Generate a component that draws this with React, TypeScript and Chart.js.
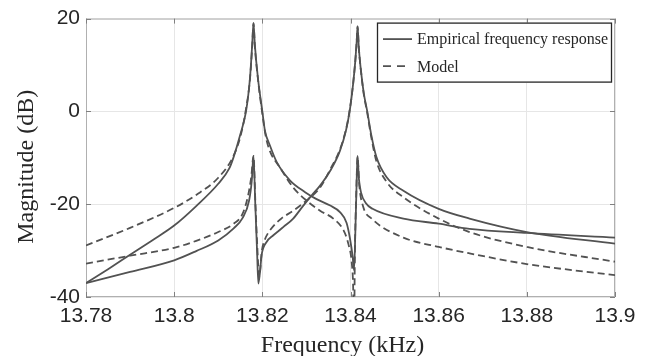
import { useEffect, useRef } from "react";
import { Chart, registerables } from "chart.js";

Chart.register(...registerables);

// ---- Data ----
const xTickValues = [13.78, 13.8, 13.82, 13.84, 13.86, 13.88, 13.9];
const yTickValues = [-40, -20, 0, 20];
const legendLabels = ["Empirical frequency response", "Model"];
const xTitle = "Frequency (kHz)";
const yTitle = "Magnitude (dB)";

// Empirical response, channel A (large peak at 13.818)
const empFreqA = [
  13.78, 13.785, 13.79, 13.795, 13.8, 13.805, 13.81, 13.8125, 13.8135, 13.815,
  13.8163, 13.8172, 13.8177, 13.818, 13.8183, 13.819, 13.82, 13.8206, 13.8217,
  13.8233, 13.8263, 13.8297, 13.8323, 13.8354, 13.8376, 13.8391, 13.8399,
  13.8405, 13.8408, 13.8411, 13.8414, 13.8416, 13.8419, 13.8424, 13.8435,
  13.845, 13.852, 13.86, 13.867, 13.88, 13.9,
];
const empMagA = [
  -37.0, -34.0, -30.9, -27.8, -24.6, -20.4, -15.6, -12.3, -9.8, -5.0,
  0.0, 7.2, 14.4, 19.0, 14.4, 7.2, 0.0, -4.2, -7.3,
  -11.0, -14.9, -17.4, -18.9, -20.3, -21.7, -24.0, -27.5,
  -31.4, -34.2, -26.0, -15.0, -9.6, -14.5, -17.5, -19.8,
  -21.0, -23.1, -24.2, -25.3, -26.2, -27.2,
];

// Empirical response, channel B (large peak at 13.8416)
const empFreqB = [
  13.78, 13.79, 13.8, 13.805, 13.81, 13.8135, 13.8155, 13.817, 13.8176, 13.818,
  13.8184, 13.8188, 13.8191, 13.8199, 13.821, 13.8225, 13.8248, 13.827, 13.8293,
  13.8312, 13.8331, 13.8354, 13.8376, 13.839, 13.8398, 13.8406, 13.8411, 13.8414,
  13.8416, 13.8419, 13.8424, 13.843, 13.8438, 13.8447, 13.8459, 13.8482, 13.852,
  13.86, 13.867, 13.88, 13.9,
];
const empMagB = [
  -37.0, -34.6, -32.1, -30.1, -27.8, -25.2, -23.0, -19.2, -15.0, -9.6,
  -20.0, -30.0, -37.1, -30.6, -28.1, -26.7, -24.9, -23.1, -20.3,
  -18.1, -16.0, -12.8, -8.5, -4.0, 0.0, 6.0, 11.0, 15.0,
  18.3, 13.5, 8.5, 4.0, 0.0, -5.0, -9.9, -14.2, -17.1,
  -21.0, -23.1, -26.0, -28.5,
];

// Model, channel A
const modFreqA = [
  13.78, 13.79, 13.8, 13.805, 13.81, 13.8133, 13.815, 13.8162, 13.8172, 13.8177,
  13.818, 13.8183, 13.819, 13.82, 13.8208, 13.8217, 13.824, 13.827, 13.83,
  13.8331, 13.8361, 13.8384, 13.8395, 13.8403, 13.8406, 13.8408, 13.841, 13.8413,
  13.8416, 13.842, 13.8429, 13.8448, 13.852, 13.86, 13.867, 13.88, 13.9,
];
const modMagA = [
  -28.9, -25.1, -20.8, -18.0, -14.3, -9.9, -5.5, 0.0, 7.0, 14.0,
  19.0, 14.0, 7.0, -0.5, -5.5, -8.5, -12.1, -16.4, -19.2,
  -21.4, -23.1, -25.6, -28.5, -32.8, -37.8, -48.0, -30.0, -18.0,
  -9.8, -16.0, -20.6, -23.1, -27.2, -29.2, -30.6, -32.9, -35.3,
];

// Model, channel B
const modFreqB = [
  13.78, 13.79, 13.8, 13.805, 13.81, 13.8135, 13.8155, 13.8168, 13.8175, 13.818,
  13.8184, 13.8188, 13.8193, 13.8199, 13.8205, 13.822, 13.8243, 13.827, 13.8304,
  13.8331, 13.8354, 13.8376, 13.839, 13.8398, 13.8406, 13.8411, 13.8414, 13.8416,
  13.8419, 13.8424, 13.843, 13.8438, 13.8447, 13.8459, 13.8482, 13.852, 13.86,
  13.867, 13.88, 13.9,
];
const modMagB = [
  -32.8, -31.1, -29.4, -27.9, -26.0, -24.2, -22.1, -18.0, -14.0, -9.6,
  -19.0, -28.0, -35.6, -30.0, -27.8, -25.3, -23.1, -21.4, -18.9,
  -16.4, -12.5, -8.2, -3.8, 0.2, 6.0, 11.0, 15.0, 18.3,
  13.5, 8.5, 3.8, -0.3, -5.5, -10.8, -15.2, -18.5, -23.1,
  -26.0, -29.2, -32.4,
];

const LINE = "#525252";
const TEXT = "#262626";
const GRID = "#e6e6e6";
const BOX = "#b0b0b0";

const toPoints = (xs: number[], ys: number[]) => xs.map((x, i) => ({ x, y: ys[i] }));

export default function App() {
  const ref = useRef<HTMLCanvasElement | null>(null);

  useEffect(() => {
    if (!ref.current) return;

    const framePlugin = {
      id: "matlabFrame",
      beforeDatasetsDraw(chart: any) {
        const { ctx, chartArea: a, scales } = chart;
        ctx.save();
        ctx.strokeStyle = BOX;
        ctx.lineWidth = 1;
        ctx.strokeRect(a.left + 0.5, a.top + 0.5, a.right - a.left - 1, a.bottom - a.top - 1);
        ctx.strokeStyle = "#808080";
        const tl = 5;
        ctx.beginPath();
        for (const v of xTickValues) {
          const px = Math.round(scales.x.getPixelForValue(v)) + 0.5;
          ctx.moveTo(px, a.bottom);
          ctx.lineTo(px, a.bottom - tl);
          ctx.moveTo(px, a.top);
          ctx.lineTo(px, a.top + tl);
        }
        for (const v of yTickValues) {
          const py = Math.round(scales.y.getPixelForValue(v)) + 0.5;
          ctx.moveTo(a.left, py);
          ctx.lineTo(a.left + tl, py);
          ctx.moveTo(a.right, py);
          ctx.lineTo(a.right - tl, py);
        }
        ctx.stroke();
        ctx.restore();
      },
      afterDraw(chart: any) {
        const { ctx, chartArea: a } = chart;

        // axis titles
        ctx.save();
        ctx.fillStyle = TEXT;
        ctx.font = "24px 'Liberation Serif'";
        ctx.textAlign = "center";
        ctx.textBaseline = "alphabetic";
        ctx.fillText(xTitle, (a.left + a.right) / 2 - 8, 352);
        ctx.translate(33, (a.top + a.bottom) / 2 + 9);
        ctx.rotate(-Math.PI / 2);
        ctx.fillText(yTitle, 0, 0);
        ctx.restore();

        // legend
        const right = a.right - 3;
        const top = a.top + 4;
        const left = right - 235;
        const h = 60;
        ctx.save();
        ctx.fillStyle = "#ffffff";
        ctx.fillRect(left, top, right - left, h);
        ctx.strokeStyle = TEXT;
        ctx.lineWidth = 1.3;
        ctx.strokeRect(left + 0.5, top + 0.5, right - left - 1, h - 1);

        ctx.strokeStyle = LINE;
        ctx.lineWidth = 1.8;
        ctx.setLineDash([]);
        ctx.beginPath();
        ctx.moveTo(left + 6, top + 16.5);
        ctx.lineTo(left + 35, top + 16.5);
        ctx.stroke();
        ctx.setLineDash([8, 6]);
        ctx.beginPath();
        ctx.moveTo(left + 6, top + 43.5);
        ctx.lineTo(left + 28, top + 43.5);
        ctx.stroke();
        ctx.setLineDash([]);

        ctx.fillStyle = TEXT;
        ctx.font = "16px 'Liberation Serif'";
        ctx.textAlign = "left";
        ctx.textBaseline = "alphabetic";
        ctx.fillText(legendLabels[0], left + 40, top + 21.5);
        ctx.fillText(legendLabels[1], left + 40, top + 49);
        ctx.restore();
      },
    };

    const common = {
      borderColor: LINE,
      borderWidth: 1.8,
      pointRadius: 0,
      pointHoverRadius: 0,
      fill: false,
      cubicInterpolationMode: "monotone" as const,
    };

    const chart = new Chart(ref.current, {
      type: "line",
      data: {
        datasets: [
          { ...common, label: legendLabels[0], data: toPoints(empFreqA, empMagA) },
          { ...common, label: legendLabels[0] + " B", data: toPoints(empFreqB, empMagB) },
          { ...common, label: legendLabels[1], data: toPoints(modFreqA, modMagA), borderDash: [7, 4] },
          { ...common, label: legendLabels[1] + " B", data: toPoints(modFreqB, modMagB), borderDash: [7, 4] },
        ],
      },
      options: {
        responsive: false,
        maintainAspectRatio: false,
        animation: false,
        devicePixelRatio: 1,
        layout: { padding: { top: 17, right: 30, left: 0, bottom: 0 } },
        plugins: {
          legend: { display: false },
          tooltip: { enabled: false },
        },
        scales: {
          x: {
            type: "linear",
            min: 13.78,
            max: 13.9,
            afterBuildTicks: (s: any) => {
              s.ticks = xTickValues.map((v) => ({ value: v }));
            },
            afterFit: (s: any) => {
              s.height = 59;
            },
            ticks: {
              autoSkip: false,
              maxRotation: 0,
              padding: 7,
              color: TEXT,
              font: { family: "'Liberation Sans', Arial, sans-serif", size: 21 },
              callback: (v: any) => String(v),
            },
            grid: { color: GRID, drawTicks: false },
            border: { display: false },
            title: { display: false },
          },
          y: {
            type: "linear",
            min: -40,
            max: 20,
            afterBuildTicks: (s: any) => {
              s.ticks = yTickValues.map((v) => ({ value: v }));
            },
            afterFit: (s: any) => {
              s.width = 86;
            },
            ticks: {
              padding: 6,
              color: TEXT,
              font: { family: "'Liberation Sans', Arial, sans-serif", size: 21 },
              callback: (v: any) => String(v),
            },
            grid: { color: GRID, drawTicks: false },
            border: { display: false },
            title: { display: false },
          },
        },
      },
      plugins: [framePlugin],
    });

    return () => chart.destroy();
  }, []);

  return (
    <div style={{ position: "absolute", left: 0, top: 0, width: 645, height: 356, background: "#fff" }}>
      <canvas ref={ref} width={645} height={356} style={{ display: "block", width: 645, height: 356 }} />
    </div>
  );
}
